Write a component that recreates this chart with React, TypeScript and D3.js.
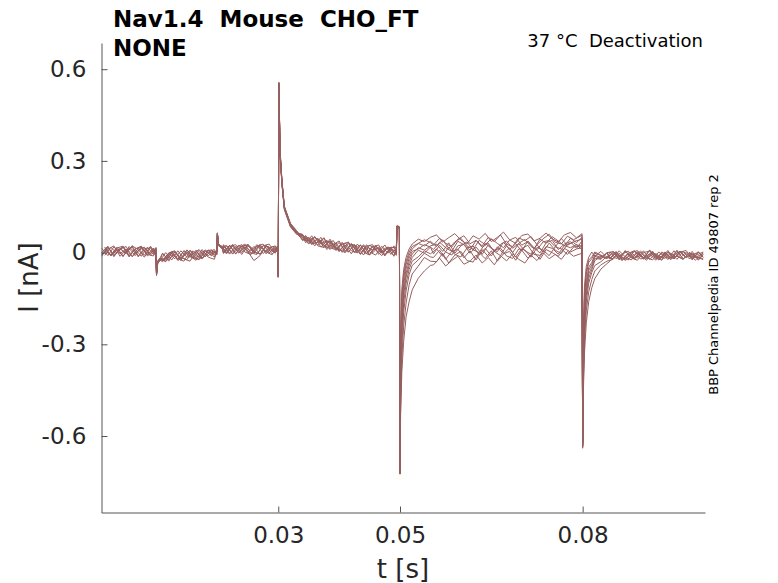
import React, { useEffect, useRef, FC } from "react";
import * as d3 from "d3";

const WIDTH = 778;
const HEIGHT = 583;

// two sampling grids [s]; even sweeps use timesA, odd sweeps timesB
const timesA = [
  0.001, 0.002, 0.003, 0.004, 0.005, 0.006, 0.007, 0.008, 0.009, 0.0099,
  0.01, 0.0102, 0.0106, 0.011, 0.012, 0.013, 0.014, 0.015, 0.016, 0.017, 0.018, 0.019, 0.0199,
  0.02, 0.0202, 0.0208, 0.0215, 0.0225, 0.0235, 0.0245, 0.0255, 0.0265, 0.0275, 0.0285, 0.0295, 0.0299,
  0.03, 0.0301, 0.0303, 0.0306, 0.031, 0.032, 0.033, 0.034,
  0.035, 0.036, 0.037, 0.038, 0.039, 0.04, 0.041, 0.042, 0.043, 0.044, 0.045, 0.046, 0.047, 0.048, 0.049,
  0.0494, 0.0495, 0.0499,
  0.05, 0.0501, 0.0503, 0.0506, 0.051, 0.0515, 0.052, 0.053, 0.054, 0.055,
  0.056, 0.057, 0.058, 0.059, 0.06, 0.061, 0.062, 0.063, 0.064, 0.065, 0.066, 0.067, 0.068, 0.069, 0.07,
  0.071, 0.072, 0.073, 0.074, 0.075, 0.076, 0.077, 0.078, 0.079, 0.0799,
  0.08, 0.0801, 0.0803, 0.0806, 0.081, 0.0815, 0.082, 0.083, 0.084,
  0.085, 0.086, 0.087, 0.088, 0.089, 0.09, 0.091, 0.092, 0.093, 0.094, 0.095, 0.096, 0.097, 0.098, 0.099, 0.0998,
];
const timesB = [
  0.0015, 0.0025, 0.0035, 0.0045, 0.0055, 0.0065, 0.0075, 0.0085, 0.0095, 0.0099,
  0.01, 0.0102, 0.0106, 0.0115, 0.0125, 0.0135, 0.0145, 0.0155, 0.0165, 0.0175, 0.0185, 0.0195, 0.0199,
  0.02, 0.0202, 0.0208, 0.021, 0.022, 0.023, 0.024, 0.025, 0.026, 0.027, 0.028, 0.029, 0.0299,
  0.03, 0.0301, 0.0303, 0.0306, 0.031, 0.032, 0.033, 0.034,
  0.0345, 0.0355, 0.0365, 0.0375, 0.0385, 0.0395, 0.0405, 0.0415, 0.0425, 0.0435, 0.0445, 0.0455, 0.0465, 0.0475, 0.0485,
  0.0494, 0.0495, 0.0499,
  0.05, 0.0501, 0.0503, 0.0506, 0.051, 0.0515, 0.052, 0.053, 0.054, 0.055,
  0.0555, 0.0565, 0.0575, 0.0585, 0.0595, 0.0605, 0.0615, 0.0625, 0.0635, 0.0645, 0.0655, 0.0665, 0.0675,
  0.0685, 0.0695, 0.0705, 0.0715, 0.0725, 0.0735, 0.0745, 0.0755, 0.0765, 0.0775, 0.0785, 0.0799,
  0.08, 0.0801, 0.0803, 0.0806, 0.081, 0.0815, 0.082, 0.083, 0.084,
  0.0845, 0.0855, 0.0865, 0.0875, 0.0885, 0.0895, 0.0905, 0.0915, 0.0925, 0.0935, 0.0945, 0.0955, 0.0965, 0.0975, 0.0985, 0.0998,
];

// current of each sweep [pA]
const sweep0 = [
  14, -10, 19, -4, 12, -13, 6, 18, -8, 9,
  -72, -32, -22, -26, -2, -20, 6, -15, -3, 10, -13, 7, -6,
  62, 26, 20, -2, 24, 0, 19, 5, 26, -3, 15, 22, 4,
  -80, 556, 330, 235, 148, 90, 66, 58,
  36, 52, 28, 40, 14, 33, 6, 27, 0, 22, -7, 17, 2, 14, -10,
  8, 86, 82,
  -722, -290, -120, -55, -15, 12, 28, 44, 36, 50,
  58, 34, 49, 62, 41, 28, 55, 44, 63, 36, 50, 67, 42, 30, 56, 61, 38, 47, 64, 45, 35, 58, 66, 48, 62,
  -636, -280, -110, -45, -15, 2, -12, 4, -16,
  -20, 6, -14, -24, 3, -17, 8, -11, -22, 1, -19, 5, -15, -2, -21, -6,
];
const sweep1 = [
  -9, 17, -2, 20, -12, 12, 18, -7, 15, -4,
  -68, -28, -18, -30, -3, -22, 7, -12, -25, 4, -10, 5, -8,
  58, 24, 12, 22, -5, 16, 26, 0, 20, -6, 24, 3, 14,
  -76, 552, 325, 228, 145, 88, 62, 44,
  54, 31, 46, 20, 37, 9, 30, 2, 25, -5, 19, 8, 15, -6, 12,
  4, 84, 80,
  -715, -310, -140, -70, -28, 2, 20, 30, 42, 33,
  25, 47, 31, 18, 44, 55, 29, 40, 22, 50, 36, 58, 27, 20, 48, 39, 53, 26, 45, 60, 34, 28, 54, 42, 57,
  -630, -300, -130, -60, -24, -14, 2, -8, -18,
  2, -20, -5, 5, -17, -9, -25, 0, -13, -19, -1, -22, 4, -12, -16, -3,
];
const sweep2 = [
  0, 21, -12, 13, -1, 22, -10, 8, 17, -11,
  -74, -34, -24, -2, -24, 2, -19, 9, -13, -22, 6, -9, 8,
  64, 28, 18, 1, 27, -1, 18, -6, 23, 12, -2, 21, 16,
  -79, 548, 318, 232, 148, 94, 70, 40,
  48, 22, 50, 17, 26, 38, 1, 28, 20, -8, 24, 10, -10, 19, 0,
  -2, 88, 84,
  -725, -340, -160, -85, -38, -8, 12, 30, 22, 37,
  20, 42, 14, 35, 47, 22, 10, 40, 26, 45, 30, 16, 41, 50, 24, 37, 12, 44, 31, 52, 38, 22, 47, 33, 50,
  -625, -320, -150, -72, -32, -20, -2, -10, -19,
  4, -13, -22, -1, 7, -18, -4, -25, 2, -11, -20, 5, -15, -7, 1, -14,
];
const sweep3 = [
  18, -8, 11, -13, 20, -2, 15, -6, -11, 16,
  -66, -30, -20, -20, 3, -26, -12, 8, -10, -20, 9, -8, 3,
  56, 22, 14, -3, 20, 26, 0, 28, 4, -5, 22, 9, 15,
  -77, 545, 322, 226, 142, 86, 64, 60,
  38, 47, 25, 49, 16, 9, 34, 1, 27, -3, 21, 26, -6, 14, 17,
  -9, 82, 79,
  -710, -360, -190, -105, -52, -18, 4, 12, 26, 18,
  10, 34, 16, 4, 37, 26, 8, 40, 17, 31, 2, 27, 38, 14, 30, 43, 20, 9, 35, 40, 19, 46, 24, 36, 44,
  -620, -350, -180, -95, -48, -32, -8, -16, -2,
  -20, 0, -16, -24, 6, -12, -19, 3, -18, -8, -23, 0, 4, -20, -10, 2,
];
const sweep4 = [
  -8, 11, 22, -12, 8, 18, -14, 14, -3, 12,
  -70, -29, -19, -26, -1, 6, -21, 1, -18, 7, -14, 6, -4,
  60, 25, 15, 20, -3, 25, 2, -6, 21, 28, 0, 17, -1,
  -78, 550, 328, 230, 147, 90, 66, 42,
  50, 30, 40, 10, 30, 5, 25, -4, 28, 2, -8, 22, -1, 16, 3,
  11, 85, 81,
  -718, -390, -215, -125, -68, -30, -5, 16, 8, 22,
  28, 4, 32, -2, 22, 35, 9, 0, 30, 14, 3, 34, 10, 29, 5, 38, 16, -1, 32, 40, 10, 28, 36, 14, 38,
  -635, -370, -200, -108, -58, -40, -12, -20, 0,
  3, -21, 7, -17, -25, 0, 5, -20, -2, -23, 6, -18, 1, -24, 3, -15,
];
const sweep5 = [
  16, -11, 8, 18, -14, 12, 21, -5, 10, -9,
  -73, -31, -21, -28, -2, -22, 5, -16, 8, -20, 2, 10, -5,
  63, 27, 13, -1, 24, -5, 20, 26, -2, 22, 2, -7, 21,
  -80, 554, 335, 238, 152, 96, 72, 48,
  56, 26, 46, 16, 39, 7, 28, 34, 0, 24, -5, 19, 25, -8, 18,
  14, 87, 83,
  -720, -420, -240, -140, -80, -42, -16, 8, -2, 18,
  -4, 24, 2, -8, 22, 27, -2, 18, -6, 26, 4, -10, 23, 0, 29, 6, -5, 26, 2, 31, 8, -3, 28, 33, 10,
  -628, -390, -220, -125, -70, -48, -18, -22, 0,
  -18, 4, -23, -1, -19, 6, -16, -24, 2, -14, -21, 5, -20, -2, -25, 0,
];
const sweep6 = [
  -12, 16, -7, 11, 20, -13, 14, -9, 21, -3,
  -67, -27, -17, -2, -28, 2, -16, -23, 6, -14, 9, -10, 6,
  57, 23, 17, 24, -5, 16, 28, -1, -6, 23, 19, -2, 18,
  -76, 546, 320, 224, 140, 84, 60, 56,
  30, 52, 18, 38, 28, 3, 32, 6, -1, 26, 2, -8, 21, -2, 22,
  -5, 83, 80,
  -712, -450, -270, -165, -100, -55, -28, -14, 6, -4,
  12, -12, 18, -6, -14, 15, 22, -8, 14, -11, 19, -4, 16, -15, 13, 24, -6, -9, 20, 14, -5, 23, 16, 26, 20,
  -622, -410, -240, -140, -84, -56, -26, -12, -20,
  0, -24, 5, -18, 2, -22, 8, -16, -25, 3, -19, 1, 7, -21, 2, -15,
];
const sweep7 = [
  12, -8, 18, -12, 14, -10, 20, -11, 7, 16,
  -71, -33, -23, -24, 4, -20, -28, 5, -17, 10, -15, -22, 4,
  61, 26, 14, 26, -2, 20, -6, 23, 2, 27, -4, 21, 0,
  -79, 551, 324, 229, 146, 91, 69, 40,
  50, 28, 34, 46, 10, 32, 1, 29, 20, -6, 26, -1, 19, -11, 16,
  18, 86, 82,
  -724, -480, -305, -195, -125, -72, -42, -24, -2, -14,
  -16, 8, -22, 4, 11, -17, 6, -24, 10, -13, 7, 15, -11, -19, 12, 9, -15, 17, 8, -10, 19, 12, -6, 18, 22,
  -632, -430, -265, -160, -100, -65, -42, -30, -12,
  -20, 2, -25, -2, 6, -21, -14, 4, -24, -1, -17, 8, -22, 0, -13, -23,
];
const sweep8 = [
  -6, 19, -13, 13, -4, 22, 10, -15, 16, -9,
  -69, -30, -25, -30, -5, 4, -26, 8, -17, -23, 4, 9, -3,
  59, 24, 16, -4, 21, 0, 25, 18, -4, 22, 28, -1, 20,
  -78, 549, 326, 233, 149, 89, 65, 57,
  28, 50, 36, 14, 40, 10, 0, 30, 4, 22, -7, 24, -2, 18, -12,
  9, 84, 81,
  -716, -500, -345, -240, -165, -105, -70, -44, -16, -28,
  -30, -2, -34, -8, 4, -26, -31, 0, -20, 6, -28, -4, 4, -25, 8, -18, 2, -22, 10, 0, -12, 14, 2, 12, 16,
  -615, -450, -290, -190, -128, -88, -60, -40, -28,
  -22, -2, -26, 0, -18, 6, -23, -3, -16, 7, -21, 1, -17, 4, -25, -6,
];
const sweep9 = [
  10, -10, 15, 21, -9, 11, -12, 18, -6, 14,
  -75, -35, -26, 0, -24, 6, -21, -28, 3, -18, 8, -15, 5,
  65, 27, 19, 1, 24, -3, 22, 4, -26, -10, 21, -4, 14,
  -81, 557, 332, 236, 151, 93, 67, 53,
  32, 55, 22, 17, 44, 12, 7, 35, 2, 26, -3, 22, 0, 25, -6,
  14, 88, 85,
  -721, -530, -390, -290, -210, -160, -122, -84, -60, -42,
  -40, -18, -44, -26, -12, -38, -28, -8, -34, -16, -40, -10, -27, -4, -22, -34, -8, -26, 0, -20, -6, -22, 4, -12, -2,
  -640, -470, -330, -230, -160, -115, -85, -54, -36,
  -28, -8, -26, -4, -22, 2, -20, -6, -24, 2, -16, -12, -22, 0, -15, -19,
];
const sweeps = [sweep0, sweep1, sweep2, sweep3, sweep4, sweep5, sweep6, sweep7, sweep8, sweep9];

const xTicks = [0.03, 0.05, 0.08];
const xTickLabels = ["0.03", "0.05", "0.08"];
const yTicks = [0.6, 0.3, 0, -0.3, -0.6];
const yTickLabels = ["0.6", "0.3", "0", "-0.3", "-0.6"];

const titleLines = ["Nav1.4  Mouse  CHO_FT", "NONE"];
const conditionText = "37 °C  Deactivation";
const sideText = "BBP Channelpedia ID 49807 rep 2";
const xLabel = "t [s]";
const yLabel = "I [nA]";

const TraceChart: FC = () => {
  const canvas = useRef<SVGSVGElement>(null);

  useEffect(() => {
    const svg = d3.select(canvas.current);
    svg.html("");

    const font = "'DejaVu Sans', sans-serif";
    const ink = "#262626";
    const traceColor = "#975f5f";

    const x = d3.scaleLinear().domain([0.00093, 0.1001]).range([101.3, 705]);
    const y = d3.scaleLinear().domain([-0.8502, 0.6857]).range([512.5, 43]);

    // pair every sweep with its sampling grid
    const traces = sweeps.map((values, k) => {
      const t = k % 2 === 0 ? timesA : timesB;
      return values.map((v, i) => [t[i], v / 1000] as [number, number]);
    });

    const line = d3
      .line<[number, number]>()
      .x((d) => x(d[0]))
      .y((d) => y(d[1]));

    svg
      .append("g")
      .selectAll("path")
      .data(traces)
      .join("path")
      .attr("d", (d) => line(d))
      .style("fill", "none")
      .style("stroke", traceColor)
      .style("stroke-width", 1)
      .style("stroke-linejoin", "round");

    // axes, ticks pointing inwards
    const xAxis = svg
      .append("g")
      .attr("transform", "translate(0,512.5)")
      .call(
        d3
          .axisBottom(x)
          .tickValues(xTicks)
          .tickFormat((d, i) => xTickLabels[i])
          .tickSizeInner(-6)
          .tickSizeOuter(0)
          .tickPadding(14.5)
      );
    const yAxis = svg
      .append("g")
      .attr("transform", "translate(101.5,0)")
      .call(
        d3
          .axisLeft(y)
          .tickValues(yTicks)
          .tickFormat((d, i) => yTickLabels[i])
          .tickSizeInner(-6)
          .tickSizeOuter(0)
          .tickPadding(15)
      );
    [xAxis, yAxis].forEach((g) => {
      g.select(".domain").style("stroke", "#555");
      g.selectAll(".tick line").style("stroke", "#555");
      g.selectAll(".tick text")
        .style("font-family", font)
        .style("font-size", "23px")
        .style("fill", ink);
    });

    // axis labels
    svg
      .append("text")
      .attr("x", 403)
      .attr("y", 577.5)
      .attr("text-anchor", "middle")
      .style("font-family", font)
      .style("font-size", "26px")
      .style("fill", ink)
      .text(xLabel);
    svg
      .append("text")
      .attr("transform", "translate(38,277.5) rotate(-90)")
      .attr("text-anchor", "middle")
      .style("font-family", font)
      .style("font-size", "26px")
      .style("fill", ink)
      .text(yLabel);

    // titles
    svg
      .append("g")
      .selectAll("text")
      .data(titleLines)
      .join("text")
      .attr("x", 113)
      .attr("y", (d, i) => 26.7 + i * 29.3)
      .style("font-family", font)
      .style("font-size", "23px")
      .style("font-weight", "bold")
      .style("white-space", "pre")
      .style("fill", "#000")
      .text((d) => d);

    svg
      .append("text")
      .attr("x", 703)
      .attr("y", 46.7)
      .attr("text-anchor", "end")
      .style("font-family", font)
      .style("font-size", "18px")
      .style("white-space", "pre")
      .style("fill", "#000")
      .text(conditionText);

    svg
      .append("text")
      .attr("transform", "translate(718,284.5) rotate(-90)")
      .attr("text-anchor", "middle")
      .style("font-family", font)
      .style("font-size", "13px")
      .style("fill", "#000")
      .text(sideText);
  }, []);

  return (
    <svg
      ref={canvas}
      width={WIDTH}
      height={HEIGHT}
      style={{ position: "absolute", left: 0, top: 0, background: "#fff" }}
    ></svg>
  );
};

export default function App() {
  return <TraceChart />;
}
